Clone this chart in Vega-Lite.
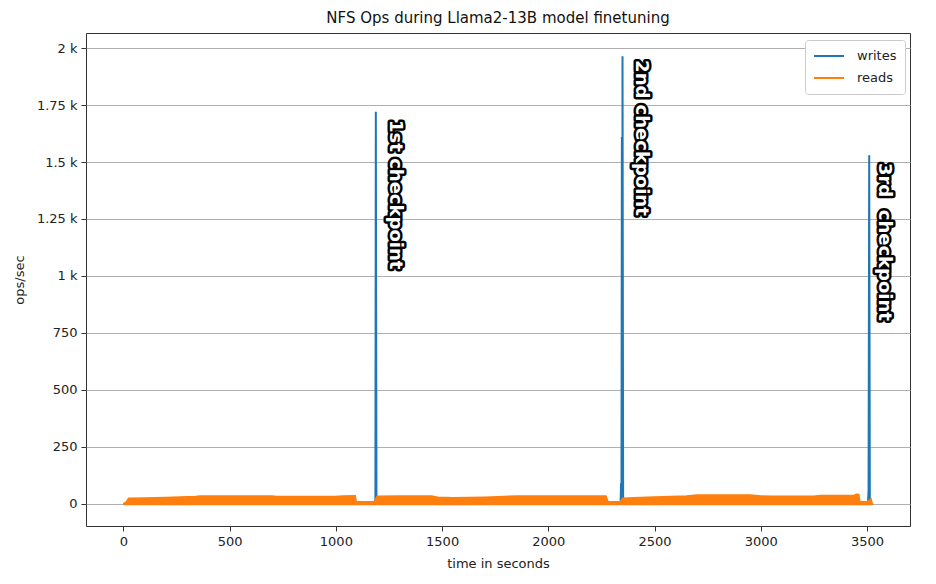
{
  "$schema": "https://vega.github.io/schema/vega-lite/v6.json",
  "width": 824,
  "height": 493,
  "autosize": "none",
  "padding": {"left": 86, "top": 33, "right": 26, "bottom": 58},
  "background": "white",
  "title": {"text": "NFS Ops during Llama2-13B model finetuning", "fontSize": 15, "fontWeight": "normal", "font": "DejaVu Sans", "color": "#111", "offset": 7},
  "config": {
    "font": "DejaVu Sans",
    "view": {"stroke": "#333", "strokeWidth": 1},
    "axis": {"labelFont": "DejaVu Sans", "titleFont": "DejaVu Sans", "labelFontSize": 13, "titleFontSize": 13, "titleFontWeight": "normal", "labelColor": "#222", "titleColor": "#222", "tickColor": "#333", "tickSize": 5, "domain": false, "labelPadding": 4}
  },
  "datasets": {
    "series": [
      {"t": 0, "v": 0, "series": "writes"},
      {"t": 1184, "v": 0, "series": "writes"},
      {"t": 1186, "v": 20, "series": "writes"},
      {"t": 1188, "v": 1720, "series": "writes"},
      {"t": 1191, "v": 0, "series": "writes"},
      {"t": 2340, "v": 0, "series": "writes"},
      {"t": 2342, "v": 90, "series": "writes"},
      {"t": 2344, "v": 0, "series": "writes"},
      {"t": 2346, "v": 1610, "series": "writes"},
      {"t": 2348, "v": 5, "series": "writes"},
      {"t": 2349, "v": 1964, "series": "writes"},
      {"t": 2352, "v": 0, "series": "writes"},
      {"t": 3504, "v": 0, "series": "writes"},
      {"t": 3507, "v": 60, "series": "writes"},
      {"t": 3510, "v": 1530, "series": "writes"},
      {"t": 3513, "v": 0, "series": "writes"},
      {"t": 3526, "v": 0, "series": "writes"},
      {"t": 0, "v": 0, "series": "reads"},
      {"t": 15, "v": 8, "series": "reads"},
      {"t": 25, "v": 24, "series": "reads"},
      {"t": 100, "v": 25, "series": "reads"},
      {"t": 200, "v": 27, "series": "reads"},
      {"t": 300, "v": 30, "series": "reads"},
      {"t": 340, "v": 31, "series": "reads"},
      {"t": 360, "v": 34, "series": "reads"},
      {"t": 500, "v": 34, "series": "reads"},
      {"t": 700, "v": 34, "series": "reads"},
      {"t": 720, "v": 31, "series": "reads"},
      {"t": 900, "v": 31, "series": "reads"},
      {"t": 1000, "v": 31, "series": "reads"},
      {"t": 1030, "v": 34, "series": "reads"},
      {"t": 1090, "v": 35, "series": "reads"},
      {"t": 1095, "v": 8, "series": "reads"},
      {"t": 1180, "v": 8, "series": "reads"},
      {"t": 1185, "v": 15, "series": "reads"},
      {"t": 1195, "v": 32, "series": "reads"},
      {"t": 1300, "v": 33, "series": "reads"},
      {"t": 1450, "v": 33, "series": "reads"},
      {"t": 1480, "v": 28, "series": "reads"},
      {"t": 1550, "v": 26, "series": "reads"},
      {"t": 1700, "v": 28, "series": "reads"},
      {"t": 1790, "v": 31, "series": "reads"},
      {"t": 1850, "v": 34, "series": "reads"},
      {"t": 2000, "v": 34, "series": "reads"},
      {"t": 2200, "v": 34, "series": "reads"},
      {"t": 2270, "v": 34, "series": "reads"},
      {"t": 2280, "v": 8, "series": "reads"},
      {"t": 2340, "v": 8, "series": "reads"},
      {"t": 2350, "v": 24, "series": "reads"},
      {"t": 2400, "v": 26, "series": "reads"},
      {"t": 2500, "v": 29, "series": "reads"},
      {"t": 2650, "v": 34, "series": "reads"},
      {"t": 2700, "v": 38, "series": "reads"},
      {"t": 2950, "v": 38, "series": "reads"},
      {"t": 3000, "v": 34, "series": "reads"},
      {"t": 3050, "v": 32, "series": "reads"},
      {"t": 3250, "v": 32, "series": "reads"},
      {"t": 3280, "v": 36, "series": "reads"},
      {"t": 3440, "v": 37, "series": "reads"},
      {"t": 3450, "v": 41, "series": "reads"},
      {"t": 3460, "v": 40, "series": "reads"},
      {"t": 3465, "v": 8, "series": "reads"},
      {"t": 3500, "v": 8, "series": "reads"},
      {"t": 3510, "v": 15, "series": "reads"},
      {"t": 3518, "v": 20, "series": "reads"},
      {"t": 3522, "v": 5, "series": "reads"},
      {"t": 3526, "v": 0, "series": "reads"}
    ],
    "notes": [
      {"label": "1st checkpoint", "t": 1278, "v": 1684},
      {"label": "2nd checkpoint", "t": 2436, "v": 1947},
      {"label": "3rd\u00a0 checkpoint", "t": 3579, "v": 1496}
    ]
  },
  "encoding": {
    "x": {"field": "t", "type": "quantitative", "scale": {"domain": [-176, 3702], "nice": false, "zero": false},
      "axis": {"title": "time in seconds", "format": "d", "values": [0, 500, 1000, 1500, 2000, 2500, 3000, 3500], "grid": false, "titlePadding": 9}},
    "y": {"field": "v", "type": "quantitative", "scale": {"domain": [-97, 2066], "nice": false, "zero": false},
      "axis": {"title": "ops/sec", "values": [0, 250, 500, 750, 1000, 1250, 1500, 1750, 2000], "grid": true, "gridColor": "#b0b0b0", "gridWidth": 1, "titlePadding": 10,
        "labelExpr": "datum.value >= 1000 ? (datum.value / 1000) + ' k' : datum.value + ''"}}
  },
  "layer": [
    {
      "data": {"name": "series"},
      "transform": [{"filter": "datum.series == 'writes'"}],
      "mark": {"type": "line", "strokeWidth": 2, "clip": true},
      "encoding": {
        "color": {"field": "series", "type": "nominal", "scale": {"domain": ["writes", "reads"], "range": ["#1f77b4", "#ff7f0e"]},
          "legend": {"title": null, "orient": "none", "legendX": 719, "legendY": 7, "symbolType": "stroke", "symbolSize": 900, "symbolStrokeWidth": 2, "clipHeight": 16, "labelFontSize": 13, "labelFont": "DejaVu Sans", "labelColor": "#222", "rowPadding": 6, "padding": 8, "fillColor": "white", "strokeColor": "#ccc", "cornerRadius": 3, "labelOffset": 12}}
      }
    },
    {
      "data": {"name": "series"},
      "transform": [{"filter": "datum.series == 'reads'"}],
      "mark": {"type": "area", "color": "#ff7f0e", "opacity": 1},
      "encoding": {"y2": {"datum": -6}}
    },
    {
      "data": {"name": "series"},
      "transform": [{"filter": "datum.series == 'reads'"}],
      "mark": {"type": "line", "strokeWidth": 2},
      "encoding": {"color": {"field": "series", "type": "nominal"}}
    },
    {
      "data": {"name": "notes"},
      "mark": {"type": "text", "angle": 90, "align": "left", "baseline": "middle", "font": "DejaVu Sans", "fontSize": 18, "fontWeight": "bold", "stroke": "black", "strokeWidth": 5, "strokeJoin": "round", "fill": "black"},
      "encoding": {"text": {"field": "label"}}
    },
    {
      "data": {"name": "notes"},
      "mark": {"type": "text", "angle": 90, "align": "left", "baseline": "middle", "font": "DejaVu Sans", "fontSize": 18, "fontWeight": "bold", "fill": "white"},
      "encoding": {"text": {"field": "label"}}
    }
  ]
}
